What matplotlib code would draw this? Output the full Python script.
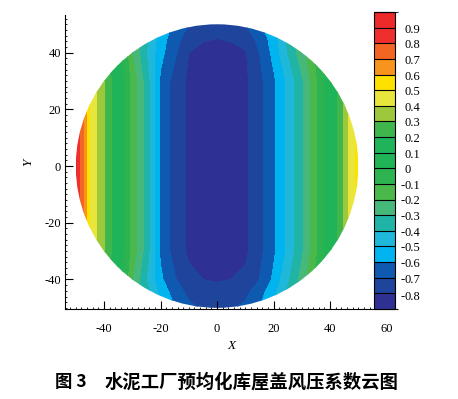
import numpy as np
import matplotlib
matplotlib.use("Agg")
import matplotlib.pyplot as plt
from matplotlib.colors import ListedColormap, BoundaryNorm
from matplotlib.patches import Circle
from matplotlib.ticker import MultipleLocator

plt.rcParams["font.family"] = ["Liberation Serif", "DejaVu Serif"]
plt.rcParams["axes.unicode_minus"] = False

# sample grid (roof radius 50 m)
x_cols = [-50, -45, -40, -35, -30, -25, -20, -15, -10, -5, 0,
          5, 10, 15, 20, 25, 30, 35, 40, 45, 50]
y_rows = [-50, -45, -40, -30, 0, 30, 40, 45, 50]

cp_mid = [0.95, 0.50, 0.30, 0.10, -0.14, -0.35, -0.62, -0.74, -0.82, -0.84, -0.84,
          -0.84, -0.82, -0.73, -0.62, -0.48, -0.32, -0.12, 0.08, 0.32, 0.56]
cp_p40 = [0.95, 0.50, 0.30, 0.08, -0.20, -0.40, -0.57, -0.68, -0.80, -0.83, -0.84,
          -0.83, -0.81, -0.70, -0.57, -0.40, -0.24, -0.08, 0.08, 0.32, 0.56]
cp_p45 = [0.95, 0.50, 0.28, 0.05, -0.22, -0.38, -0.55, -0.66, -0.75, -0.79, -0.80,
          -0.79, -0.76, -0.67, -0.55, -0.38, -0.24, -0.08, 0.08, 0.32, 0.56]
cp_p50 = [0.95, 0.50, 0.28, 0.05, -0.20, -0.34, -0.50, -0.62, -0.70, -0.73, -0.74,
          -0.73, -0.70, -0.62, -0.50, -0.36, -0.22, -0.08, 0.08, 0.32, 0.56]
cp_m40 = [0.95, 0.50, 0.30, 0.08, -0.20, -0.40, -0.58, -0.69, -0.77, -0.80, -0.81,
          -0.80, -0.78, -0.70, -0.58, -0.42, -0.26, -0.08, 0.08, 0.32, 0.56]
cp_m45 = [0.95, 0.50, 0.28, 0.05, -0.22, -0.36, -0.53, -0.64, -0.72, -0.75, -0.76,
          -0.75, -0.72, -0.64, -0.53, -0.38, -0.24, -0.08, 0.08, 0.32, 0.56]
cp_m50 = [0.95, 0.50, 0.28, 0.05, -0.20, -0.32, -0.48, -0.60, -0.68, -0.71, -0.72,
          -0.71, -0.68, -0.60, -0.48, -0.34, -0.22, -0.08, 0.08, 0.32, 0.56]

levels = [-0.85, -0.8, -0.7, -0.6, -0.5, -0.4, -0.3, -0.2, -0.1, 0.0,
          0.1, 0.2, 0.3, 0.4, 0.5, 0.6, 0.7, 0.8, 0.9, 0.95]
cbar_ticks = [-0.8, -0.7, -0.6, -0.5, -0.4, -0.3, -0.2, -0.1, 0.0,
              0.1, 0.2, 0.3, 0.4, 0.5, 0.6, 0.7, 0.8, 0.9]
fig_no = "图 3"
caption = "水泥工厂预均化库屋盖风压系数云图"

band_colors = ["#2e3192", "#1f449c", "#0d5ab0", "#00b4f0", "#1fb8da", "#20b4a6",
               "#46b87c", "#4ab84a", "#2db450", "#20b456", "#1fb35a", "#3fb64b",
               "#9dc83c", "#e8e63c", "#ffe100", "#f7941d", "#f26522", "#ee2f2d",
               "#ec2a2a"]

cp = np.array([cp_m50, cp_m45, cp_m40, cp_mid, cp_mid, cp_mid, cp_p40, cp_p45, cp_p50])

fig = plt.figure(figsize=(4.58, 3.99), dpi=100)
ax = fig.add_axes([0.142, 0.2256, 0.725, 0.737])

cmap = ListedColormap(band_colors)
norm = BoundaryNorm(levels, cmap.N)
cf = ax.contourf(x_cols, y_rows, cp, levels=levels, cmap=cmap, norm=norm)
roof = Circle((0, 0), 50, transform=ax.transData, facecolor="none", edgecolor="none")
ax.add_patch(roof)
cf.set_clip_path(roof)

ax.set_xlim(-53.8, 63.7)
ax.set_ylim(-50.4, 53.3)
ax.spines["top"].set_visible(False)
ax.spines["right"].set_visible(False)
ax.set_xticks([-40, -20, 0, 20, 40, 60])
ax.set_yticks([-40, -20, 0, 20, 40])
ax.xaxis.set_minor_locator(MultipleLocator(2))
ax.yaxis.set_minor_locator(MultipleLocator(2))
ax.tick_params(which="major", direction="in", length=5.5, width=0.8, labelsize=9)
ax.tick_params(which="minor", direction="in", length=1.5, width=0.6)
ax.tick_params(axis="x", which="major", pad=10)
ax.tick_params(axis="y", which="major", pad=3)
ax.set_xlabel("X", fontstyle="italic", fontsize=9.5, labelpad=4)
ax.set_ylabel("Y", fontstyle="italic", fontsize=9.5, labelpad=7)

cax = fig.add_axes([0.8166, 0.2256, 0.0459, 0.744])
cb = fig.colorbar(cf, cax=cax, ticks=cbar_ticks, drawedges=True)
cb.outline.set_linewidth(0.8)
cb.dividers.set_linewidth(0.8)
cb.ax.tick_params(length=0, labelright=False)

# legend labels: digits line up, minus sign hangs to the left
trans = cax.get_yaxis_transform()
for t in cbar_ticks:
    y = t - 0.012
    txt = f"{abs(t):g}"
    cax.text(1.45, y, txt, transform=trans, ha="left", va="center", fontsize=9)
    if t < 0:
        cax.text(1.45, y, "-", transform=trans, ha="right", va="center", fontsize=9)

cjk = ["Noto Sans CJK SC", "DejaVu Sans"]
fig.text(55 / 458, 0.043, fig_no, ha="left", va="center", fontsize=12.5,
         fontweight="bold", family=cjk)
fig.text(105 / 458, 0.043, caption, ha="left", va="center", fontsize=13.2,
         fontweight="bold", family=cjk)

fig.savefig("out.png", dpi=100, facecolor="white")
